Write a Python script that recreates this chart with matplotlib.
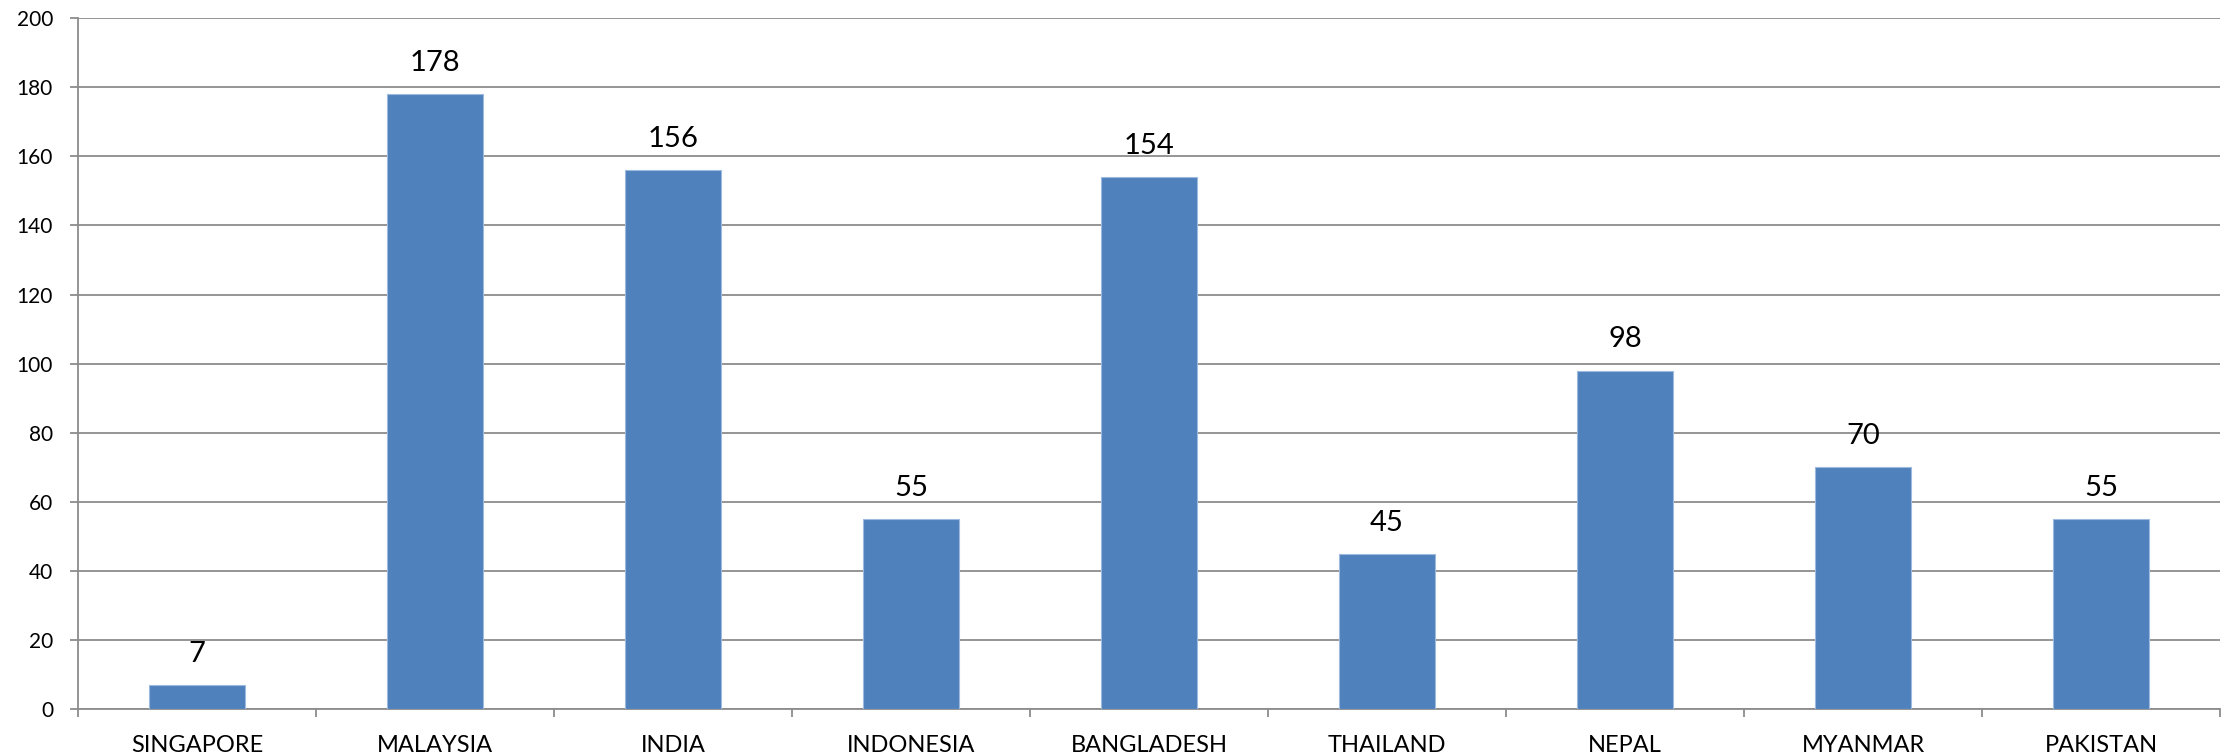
import numpy as np
import matplotlib.pyplot as plt

# data
countries = ['SINGAPORE', 'MALAYSIA', 'INDIA', 'INDONESIA', 'BANGLADESH',
             'THAILAND', 'NEPAL', 'MYANMAR', 'PAKISTAN']
values = [7, 178, 156, 55, 154, 45, 98, 70, 55]
yticks = [0, 20, 40, 60, 80, 100, 120, 140, 160, 180, 200]

plt.rcParams['font.family'] = ['Lato', 'DejaVu Sans']

fig = plt.figure(figsize=(22.29, 7.55), dpi=100)
ax = fig.add_axes([0.035, 0.0609, 0.961, 0.915])

x = np.arange(len(countries))
bars = ax.bar(x, values, width=0.4, color='#4F81BD', edgecolor='#9DB9DE',
              linewidth=0.8, zorder=3)

for b, v in zip(bars, values):
    ax.annotate(str(v), (b.get_x() + b.get_width() / 2, v),
                xytext=(0, 13), textcoords='offset points',
                ha='center', va='bottom', fontsize=21, color='black')

ax.set_xlim(-0.5, len(countries) - 0.5)
ax.set_ylim(0, 200)
ax.set_yticks(yticks)
ax.yaxis.grid(True, color='#8C8C8C', linewidth=1.3, zorder=0)

ax.set_xticks(x)
ax.set_xticklabels(countries, fontsize=17)
ax.tick_params(axis='x', which='major', length=0, pad=19)
ax.set_xticks(np.arange(len(countries) + 1) - 0.5, minor=True)
ax.tick_params(axis='x', which='minor', length=6, width=1.3, color='#8C8C8C')
ax.tick_params(axis='y', length=6, width=1.3, color='#8C8C8C', labelsize=15, pad=12)

for s in ['top', 'right']:
    ax.spines[s].set_visible(False)
for s in ['left', 'bottom']:
    ax.spines[s].set_color('#8C8C8C')
    ax.spines[s].set_linewidth(1.3)

fig.savefig('out.png', dpi=100)
